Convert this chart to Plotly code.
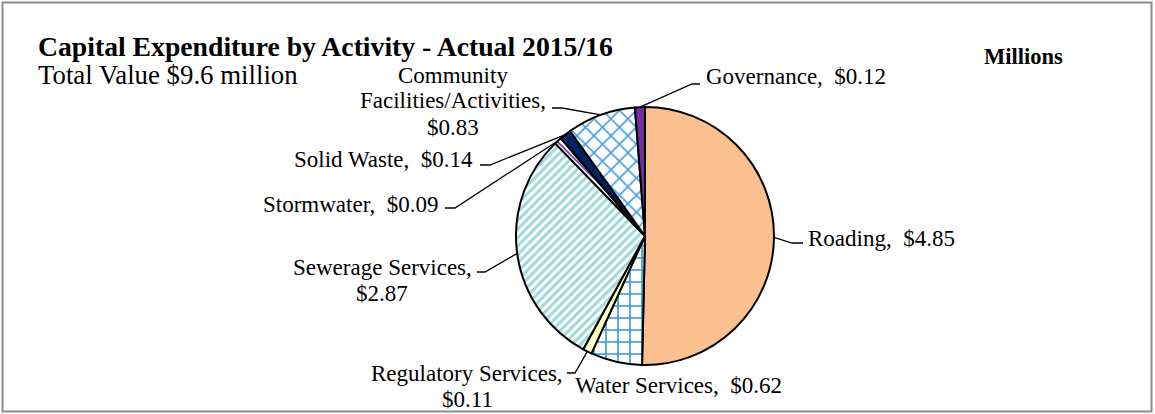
import math
import plotly.graph_objects as go

# ---- data -------------------------------------------------------------
activities = [
    "Roading",
    "Water Services",
    "Regulatory Services",
    "Sewerage Services",
    "Stormwater",
    "Solid Waste",
    "Community Facilities/Activities",
    "Governance",
]
spend_millions = [4.85, 0.62, 0.11, 2.87, 0.09, 0.14, 0.83, 0.12]

# label text lines (wrapped as displayed)
label_lines = [
    ["Roading,  $4.85"],
    ["Water Services,  $0.62"],
    ["Regulatory Services,", "$0.11"],
    ["Sewerage Services,", "$2.87"],
    ["Stormwater,  $0.09"],
    ["Solid Waste,  $0.14"],
    ["Community", "Facilities/Activities,", "$0.83"],
    ["Governance,  $0.12"],
]

title_text = "Capital Expenditure by Activity - Actual 2015/16"
subtitle_text = "Total Value $9.6 million"
units_text = "Millions"

# ---- layout constants (pixels) ------------------------------------------
W, H = 1155, 414
CX, CY, R = 645, 236, 129
FONT = "Liberation Serif"
LABEL_SIZE = 23

# per-slice label placement: anchor x, first-line centre y, x-anchor,
# and leader elbow (x_near_pie, x_near_text, y) or None
label_place = [
    dict(x=806, y=238, anchor="left", elbow=(792, 803, 243)),
    dict(x=573, y=385, anchor="left", elbow=None),
    dict(x=467, y=373, anchor="center", elbow=(575, 567, 373)),
    dict(x=382, y=267, anchor="center", elbow=(485, 477, 272)),
    dict(x=440, y=204, anchor="right", elbow=(455, 445, 208)),
    dict(x=475, y=160, anchor="right", elbow=(490, 480, 165)),
    dict(x=453, y=75, anchor="center", elbow=(562, 552, 108)),
    dict(x=704, y=77, anchor="left", elbow=(692, 700, 84)),
]
LINE_GAP = 26

slice_style = [
    dict(color="#FAC090", pattern=dict(shape="")),
    dict(color="white", pattern=dict(shape="+", fgcolor="#3A93DA", bgcolor="white",
                                     size=12, solidity=0.25)),
    dict(color="#FFFFC4", pattern=dict(shape="")),
    dict(color="white", pattern=dict(shape="/", fgcolor="#9ED8D9", bgcolor="white",
                                     size=6, solidity=0.5)),
    dict(color="white", pattern=dict(shape="\\", fgcolor="#7030A0", bgcolor="white",
                                     size=6, solidity=0.3)),
    dict(color="#002060", pattern=dict(shape="")),
    dict(color="white", pattern=dict(shape="x", fgcolor="#47A0E2", bgcolor="white",
                                     size=12, solidity=0.25)),
    dict(color="#7030A0", pattern=dict(shape="")),
]


def px(x):
    return x / W


def py(y):
    return 1 - y / H


fig = go.Figure(
    go.Pie(
        labels=activities,
        values=spend_millions,
        sort=False,
        direction="clockwise",
        rotation=0,
        textinfo="none",
        hoverinfo="label+value",
        marker=dict(
            colors=[s["color"] for s in slice_style],
            line=dict(color="black", width=2),
            pattern=dict(
                shape=[s["pattern"]["shape"] for s in slice_style],
                fgcolor=[s["pattern"].get("fgcolor", "black") for s in slice_style],
                bgcolor=[s["pattern"].get("bgcolor", s["color"]) for s in slice_style],
                size=[s["pattern"].get("size", 8) for s in slice_style],
                solidity=[s["pattern"].get("solidity", 0.3) for s in slice_style],
                fillmode="replace",
            ),
        ),
        domain=dict(x=[px(CX - R), px(CX + R)], y=[py(CY + R), py(CY - R)]),
        showlegend=False,
    )
)

annotations = []
shapes = []

# slice labels and leader lines, positioned from each slice's mid angle
total = sum(spend_millions)
cum = 0.0
for val, lines, place in zip(spend_millions, label_lines, label_place):
    mid = (cum + val / 2) / total * 2 * math.pi
    cum += val
    ex = CX + R * math.sin(mid)
    ey = CY - R * math.cos(mid)
    for i, line in enumerate(lines):
        annotations.append(dict(
            text=line, x=px(place["x"]), y=py(place["y"] + i * LINE_GAP),
            xref="paper", yref="paper", xanchor=place["anchor"], yanchor="middle",
            showarrow=False, font=dict(family=FONT, size=LABEL_SIZE, color="black"),
        ))
    if place["elbow"] is not None:
        x1, x2, yl = place["elbow"]
        path = f"M {px(ex)} {py(ey)} L {px(x1)} {py(yl)} L {px(x2)} {py(yl)}"
        shapes.append(dict(type="path", path=path, xref="paper", yref="paper",
                           line=dict(color="black", width=1.3)))

# titles
annotations += [
    dict(text=f"<b>{title_text}</b>", x=px(36), y=py(46), xref="paper", yref="paper",
         xanchor="left", yanchor="middle", showarrow=False,
         font=dict(family=FONT, size=27.7, color="black")),
    dict(text=subtitle_text, x=px(36), y=py(75), xref="paper", yref="paper",
         xanchor="left", yanchor="middle", showarrow=False,
         font=dict(family=FONT, size=26.8, color="black")),
    dict(text=f"<b>{units_text}</b>", x=px(1023), y=py(57), xref="paper", yref="paper",
         xanchor="center", yanchor="middle", showarrow=False,
         font=dict(family=FONT, size=22.5, color="black")),
]

# outer chart border
shapes.append(dict(type="rect", xref="paper", yref="paper",
                   x0=px(2.5), x1=px(1151.5), y0=py(411.5), y1=py(2.5),
                   line=dict(color="#8C8C8C", width=2)))

fig.update_layout(
    width=W, height=H,
    margin=dict(l=0, r=0, t=0, b=0),
    paper_bgcolor="white",
    plot_bgcolor="white",
    annotations=annotations,
    shapes=shapes,
)

fig.write_html("out.html")
